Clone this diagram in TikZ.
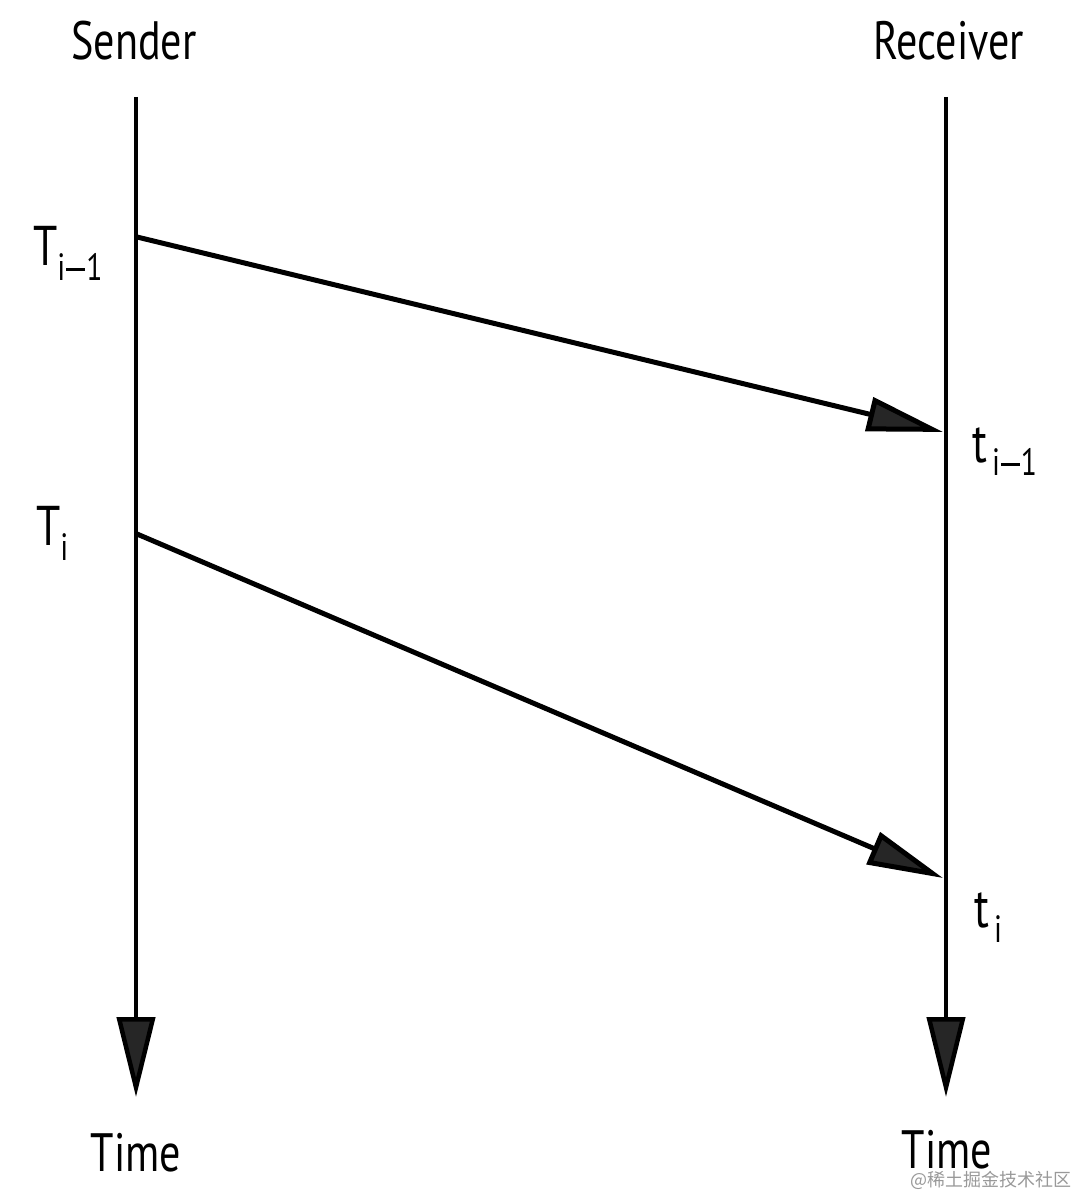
\documentclass[tikz,border=0pt]{standalone}
\usepackage{fontspec}
\setmainfont[FakeStretch=0.78]{PT Sans}
\newfontfamily\cjk{Noto Sans CJK SC}
\usetikzlibrary{arrows.meta}
\newcommand\mysub[2]{\raisebox{-#1pt}{\fontsize{38}{40}\selectfont #2}}
\newcommand\mydash{\hspace{1pt}\rule[9pt]{19pt}{2.8pt}\hspace{1pt}}
\tikzset{
  axis/.style={line width=4.5pt, -{Triangle[length=80pt,width=38pt,fill=black!85]}},
  msg/.style={line width=5pt, -{Triangle[length=76pt,width=34pt,fill=black!85]}},
  lbl/.style={inner sep=0pt, font=\fontsize{54}{60}\selectfont},
  tlbl/.style={inner sep=0pt, anchor=base west, font=\fontsize{56}{60}\selectfont},
}
\begin{document}
\begin{tikzpicture}[x=1pt,y=-1pt]
\useasboundingbox (0,0) rectangle (1076,1196);
% axes
\coordinate (stop) at (136,97);
\coordinate (sbot) at (136,1097);
\coordinate (rtop) at (946,97);
\coordinate (rbot) at (946,1097);
\draw[axis] (stop) -- (sbot);
\draw[axis] (rtop) -- (rbot);
% headings
\node[lbl, anchor=base] (sender) at (134,60) {Sender};
\node[lbl, anchor=base] (receiver) at (949,60) {Receiver};
\node[lbl, anchor=base] (time1) at (136,1171) {Time};
\node[lbl, anchor=base] (time2) at (947,1168) {Time};
% messages
\coordinate (s1) at (137,237);
\coordinate (r1) at (943,432);
\coordinate (s2) at (137,534);
\coordinate (r2) at (943,878);
\draw[msg] (s1) -- (r1);
\draw[msg] (s2) -- (r2);
% time labels
\node[tlbl] (T1) at (33,265) {T\mysub{15}{i\mydash 1}};
\node[tlbl] (T2) at (36,545) {T\mysub{15}{i}};
\node[tlbl] (t1) at (972,462) {t\hspace{5pt}\mysub{13}{i\mydash 1}};
\node[tlbl] (t2) at (974,927) {t\hspace{5pt}\mysub{15}{i}};
% watermark
\node[inner sep=0pt, anchor=base west, text=black!40, font=\cjk\fontsize{18}{20}\selectfont] (wm) at (910,1186) {@稀土掘金技术社区};
\end{tikzpicture}
\end{document}
